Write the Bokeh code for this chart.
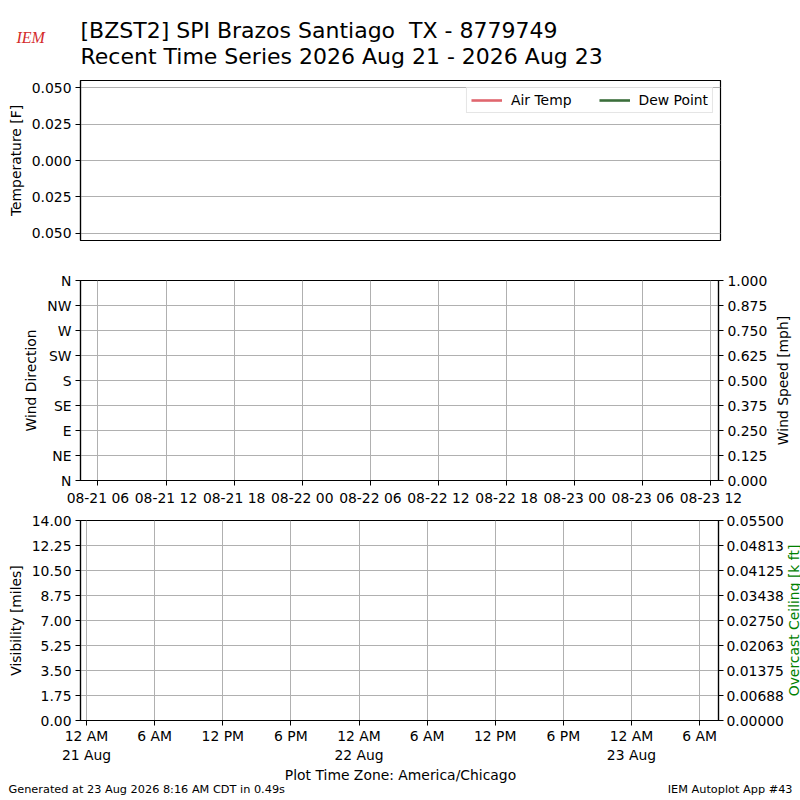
from datetime import datetime, timedelta
import numpy as np
from bokeh.plotting import figure
from bokeh.models import (Range1d, LinearAxis, FixedTicker, Label, Legend,
                          LegendItem, ColumnDataSource)
from bokeh.layouts import column, row
from bokeh.embed import file_html
from bokeh.resources import INLINE

FONT = "DejaVu Sans"
TICK_SIZE = "13.9px"
W = 800

# ---------------- data (no observations in the window) ----------------
obs_time = []
air_temp = []
dew_point = []
wind_dir = []
wind_speed = []
visibility = []
ceiling = []

title_line1 = "[BZST2] SPI Brazos Santiago \u00a0TX - 8779749"
title_line2 = "Recent Time Series 2026 Aug 21 - 2026 Aug 23"
footer_left = "Generated at 23 Aug 2026 8:16 AM CDT in 0.49s"
footer_right = "IEM Autoplot App #43"
tz_label = "Plot Time Zone: America/Chicago"

x_start_local = datetime(2026, 8, 20, 23, 28)
x_end_local = datetime(2026, 8, 23, 7, 40)
utc_offset = timedelta(hours=5)

temp_range = (-0.055, 0.055)
temp_ticks = [-0.05, -0.025, 0.0, 0.025, 0.05]
temp_tick_labels = ["0.050", "0.025", "0.000", "0.025", "0.050"]

dir_ticks = [0, 45, 90, 135, 180, 225, 270, 315, 360]
dir_tick_labels = ["N", "NE", "E", "SE", "S", "SW", "W", "NW", "N"]
speed_ticks = [0.0, 0.125, 0.25, 0.375, 0.5, 0.625, 0.75, 0.875, 1.0]
speed_tick_labels = ["0.000", "0.125", "0.250", "0.375", "0.500",
                     "0.625", "0.750", "0.875", "1.000"]

vis_ticks = [0.0, 1.75, 3.5, 5.25, 7.0, 8.75, 10.5, 12.25, 14.0]
vis_tick_labels = ["0.00", "1.75", "3.50", "5.25", "7.00", "8.75",
                   "10.50", "12.25", "14.00"]
ceil_ticks = [0.0, 0.006875, 0.01375, 0.020625, 0.0275, 0.034375,
              0.04125, 0.048125, 0.055]
ceil_tick_labels = ["0.00000", "0.00688", "0.01375", "0.02063", "0.02750",
                    "0.03438", "0.04125", "0.04813", "0.05500"]

utc_tick_times = [datetime(2026, 8, 21, 6), datetime(2026, 8, 21, 12),
                  datetime(2026, 8, 21, 18), datetime(2026, 8, 22, 0),
                  datetime(2026, 8, 22, 6), datetime(2026, 8, 22, 12),
                  datetime(2026, 8, 22, 18), datetime(2026, 8, 23, 0),
                  datetime(2026, 8, 23, 6), datetime(2026, 8, 23, 12)]
utc_tick_labels = ["08-21 06", "08-21 12", "08-21 18", "08-22 00",
                   "08-22 06", "08-22 12", "08-22 18", "08-23 00",
                   "08-23 06", "08-23 12"]

local_tick_times = [datetime(2026, 8, 21, 0), datetime(2026, 8, 21, 6),
                    datetime(2026, 8, 21, 12), datetime(2026, 8, 21, 18),
                    datetime(2026, 8, 22, 0), datetime(2026, 8, 22, 6),
                    datetime(2026, 8, 22, 12), datetime(2026, 8, 22, 18),
                    datetime(2026, 8, 23, 0), datetime(2026, 8, 23, 6)]
local_tick_labels = ["12 AM\n21 Aug", "6 AM", "12 PM", "6 PM",
                     "12 AM\n22 Aug", "6 AM", "12 PM", "6 PM",
                     "12 AM\n23 Aug", "6 AM"]

AIR_COLOR = "#e0666e"
DEW_COLOR = "#3b6e3b"
GRID_COLOR = "#b0b0b0"


def to_ms(dt):
    return (dt - datetime(1970, 1, 1)).total_seconds() * 1000.0


def no_align(p):
    if "frame_align" in p.properties():
        p.frame_align = False


def style_axis(ax):
    ax.axis_line_color = "black"
    ax.axis_line_width = 1.2
    ax.major_tick_line_color = "black"
    ax.major_tick_line_width = 1
    ax.major_tick_out = 5
    ax.major_tick_in = 0
    ax.minor_tick_line_color = None
    ax.major_label_text_font = FONT
    ax.major_label_text_font_size = TICK_SIZE
    ax.major_label_text_color = "black"
    ax.major_label_standoff = 4
    ax.axis_label_text_font = FONT
    ax.axis_label_text_font_size = TICK_SIZE
    ax.axis_label_text_font_style = "normal"
    ax.axis_label_text_color = "black"
    ax.axis_label_standoff = 5


def make_fig(width, height, top, bottom, right, x_range, y_range):
    p = figure(width=width, height=height, x_axis_type="datetime",
               x_range=x_range, y_range=y_range,
               output_backend="svg", toolbar_location=None,
               min_border_left=80, min_border_right=right,
               min_border_top=top, min_border_bottom=bottom)
    no_align(p)
    p.outline_line_color = "black"
    p.outline_line_width = 1.2
    p.outline_line_alpha = 1.0
    p.background_fill_color = "white"
    p.border_fill_color = "white"
    p.xgrid.grid_line_color = GRID_COLOR
    p.ygrid.grid_line_color = GRID_COLOR
    p.xgrid.grid_line_width = 1
    p.ygrid.grid_line_width = 1
    return p


def make_blank(width, height):
    # plain text area: one data unit is one pixel
    p = figure(width=width, height=height, x_range=Range1d(0, width),
               y_range=Range1d(0, height), output_backend="svg",
               toolbar_location=None, x_axis_location=None,
               y_axis_location=None, min_border=0)
    no_align(p)
    p.grid.visible = False
    p.outline_line_color = None
    p.background_fill_color = "white"
    p.border_fill_color = "white"
    return p


def set_ticks(axis, grid, ticks, labels):
    t = FixedTicker(ticks=[float(v) for v in ticks])
    axis.ticker = t
    axis.major_label_overrides = {float(v): s for v, s in zip(ticks, labels)}
    if grid is not None:
        grid.ticker = t


local_range = Range1d(x_start_local, x_end_local)
utc_range = Range1d(x_start_local + utc_offset, x_end_local + utc_offset)

# ---------------- header (80 px) ----------------
head = make_blank(W, 80)
head.add_layout(Label(x=80, y=50, text=title_line1, text_font=FONT,
                      text_font_size="22px", text_baseline="middle",
                      text_align="left", text_color="black"))
head.add_layout(Label(x=80, y=24, text=title_line2, text_font=FONT,
                      text_font_size="22px", text_baseline="middle",
                      text_align="left", text_color="black"))
head.add_layout(Label(x=16, y=43, text="IEM", text_font="Liberation Serif",
                      text_font_size="16px", text_font_style="italic",
                      text_baseline="middle", text_align="left",
                      text_color="#d42a2a"))

# ---------------- panel 1: temperature ----------------
p1 = make_fig(W, 180, 0, 20, 80, local_range, Range1d(*temp_range))
p1.xaxis.visible = False
p1.xgrid.visible = False
style_axis(p1.yaxis[0])
set_ticks(p1.yaxis[0], p1.ygrid[0], temp_ticks, temp_tick_labels)
p1.yaxis[0].axis_label = "Temperature [F]"

src_t = ColumnDataSource(dict(t=obs_time, a=air_temp, d=dew_point))
p1.line("t", "a", source=src_t, line_color=AIR_COLOR, line_width=2.6)
p1.line("t", "d", source=src_t, line_color=DEW_COLOR, line_width=2.6)
# legend proxies (a single missing value, nothing is drawn in the plot)
proxy = ColumnDataSource(dict(t=np.array([np.nan]), v=np.array([np.nan])))
r_air = p1.line("t", "v", source=proxy, line_color=AIR_COLOR, line_width=2.6)
r_dew = p1.line("t", "v", source=proxy, line_color=DEW_COLOR, line_width=2.6)
legend = Legend(items=[LegendItem(label="Air Temp", renderers=[r_air]),
                       LegendItem(label="Dew Point", renderers=[r_dew])],
                orientation="horizontal", location="top_right",
                glyph_width=31, glyph_height=16, label_height=16,
                label_standoff=9, spacing=27, padding=4, margin=7,
                label_text_font=FONT, label_text_font_size=TICK_SIZE,
                label_text_color="black",
                border_line_color="#cccccc", border_line_width=1,
                background_fill_color="white", background_fill_alpha=0.8)
p1.add_layout(legend)

# ---------------- panel 2: wind ----------------
p2 = make_fig(770, 250, 20, 30, 50, utc_range, Range1d(0, 360))
p2.extra_y_ranges = {"speed": Range1d(0, 1)}
style_axis(p2.xaxis[0])
style_axis(p2.yaxis[0])
set_ticks(p2.xaxis[0], p2.xgrid[0], [to_ms(t) for t in utc_tick_times], utc_tick_labels)
set_ticks(p2.yaxis[0], p2.ygrid[0], dir_ticks, dir_tick_labels)
p2.yaxis[0].axis_label = "Wind Direction"
ax_speed = LinearAxis(y_range_name="speed")
style_axis(ax_speed)
set_ticks(ax_speed, None, speed_ticks, speed_tick_labels)
p2.add_layout(ax_speed, "right")
src_w = ColumnDataSource(dict(t=obs_time, d=wind_dir, s=wind_speed))
p2.scatter("t", "d", source=src_w, size=4, color="black")
p2.line("t", "s", source=src_w, y_range_name="speed", color="blue")

lab2 = make_blank(30, 250)
lab2.add_layout(Label(x=12, y=130, text="Wind Speed [mph]", text_font=FONT,
                      text_font_size=TICK_SIZE, angle=90, angle_units="deg",
                      text_align="center", text_baseline="middle",
                      text_color="black"))

# ---------------- panel 3: visibility / ceiling ----------------
p3 = make_fig(786, 255, 10, 45, 66, local_range, Range1d(0, 14))
p3.extra_y_ranges = {"ceil": Range1d(0, 0.055)}
style_axis(p3.xaxis[0])
style_axis(p3.yaxis[0])
p3.xaxis[0].major_label_standoff = 2
set_ticks(p3.xaxis[0], p3.xgrid[0], [to_ms(t) for t in local_tick_times], local_tick_labels)
set_ticks(p3.yaxis[0], p3.ygrid[0], vis_ticks, vis_tick_labels)
p3.yaxis[0].axis_label = "Visibility [miles]"
ax_ceil = LinearAxis(y_range_name="ceil")
style_axis(ax_ceil)
ax_ceil.major_label_standoff = 3
set_ticks(ax_ceil, None, ceil_ticks, ceil_tick_labels)
p3.add_layout(ax_ceil, "right")
src_v = ColumnDataSource(dict(t=obs_time, v=visibility, c=ceiling))
p3.line("t", "v", source=src_v, color="black")
p3.line("t", "c", source=src_v, y_range_name="ceil", color="green")

lab3 = make_blank(14, 255)
lab3.add_layout(Label(x=7, y=145, text="Overcast Ceiling [k ft]", text_font=FONT,
                      text_font_size=TICK_SIZE, angle=90, angle_units="deg",
                      text_align="center", text_baseline="middle",
                      text_color="green"))

# ---------------- footer (35 px) ----------------
foot = make_blank(W, 35)
foot.add_layout(Label(x=400, y=26, text=tz_label, text_font=FONT,
                      text_font_size=TICK_SIZE, text_align="center",
                      text_baseline="middle", text_color="black"))
foot.add_layout(Label(x=8, y=11, text=footer_left, text_font=FONT,
                      text_font_size="11.3px", text_align="left",
                      text_baseline="middle", text_color="black"))
foot.add_layout(Label(x=792, y=11, text=footer_right, text_font=FONT,
                      text_font_size="11.3px", text_align="right",
                      text_baseline="middle", text_color="black"))

layout = column(head, p1, row(p2, lab2, spacing=0), row(p3, lab3, spacing=0),
                foot, spacing=0)
open("out.html", "w").write(file_html(layout, INLINE))
